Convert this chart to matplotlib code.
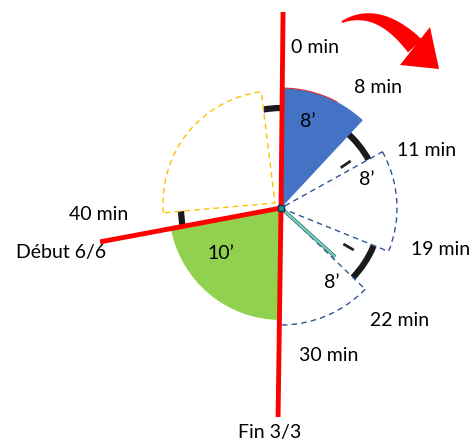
import matplotlib
matplotlib.use("Agg")
import matplotlib.pyplot as plt
import numpy as np
from matplotlib.patches import Wedge, Circle, Arc, Polygon

plt.rcParams['font.family'] = ['Lato', 'DejaVu Sans']

# angles en degrés, sens horaire depuis midi
blocs_debut = [0.6, 61, 134, 180.8, 265]
blocs_fin = [43, 112, 180.8, 259.4, 353]
blocs_texte = ["8\u2019", "8\u2019", "8\u2019", "10\u2019", ""]
blocs_angle_texte = [17, 71.6, 145.8, 233.1, 0]

minutes_texte = ["0 min", "8 min", "11 min", "19 min", "22 min", "30 min", "40 min"]
minutes_angle = [12.0, 38.7, 68.5, 104.7, 133.5, 161.9, 268.1]
minutes_rayon = [164, 155, 156, 165, 163, 155, 182]

rayons_rouges = [0.6, 180.8, 259.4]
rayons_longueur = [196, 209, 184]

cx, cy = 281, 208


def pt(a, r, c=(cx, cy)):
    th = np.radians(a - 90)
    return c[0] + r * np.cos(th), c[1] + r * np.sin(th)


fig = plt.figure(figsize=(4.73, 4.41), dpi=100)
ax = fig.add_axes([0, 0, 1, 1])
ax.set_xlim(0, 473)
ax.set_ylim(441, 0)
ax.set_aspect('equal')
ax.axis('off')

# horloge en fond
ax.add_patch(Circle((cx, cy), 100, fill=False, ec='#1a1a1a', lw=4.5, zorder=1))
for a in [56, 120]:
    x0, y0 = pt(a, 72)
    x1, y1 = pt(a, 84)
    ax.plot([x0, x1], [y0, y1], color='#222222', lw=2, solid_capstyle='butt', zorder=1)

# blocs
styles = [
    dict(fc='#4472C4', ec='none', r=120, c=(cx, cy)),
    dict(fc='white', ec='#2F5597', r=116, c=(cx, cy), ls=(0, (4, 3))),
    dict(fc='white', ec='#2F5597', r=117, c=(cx, cy), ls=(0, (4, 3))),
    dict(fc='#92D050', ec='none', r=112, c=(cx, cy)),
    dict(fc='white', ec='#FFC000', r=112, c=(275, 203), ls=(0, (4, 3))),
]
for d, f, txt, at, s in zip(blocs_debut, blocs_fin, blocs_texte, blocs_angle_texte, styles):
    w = Wedge(s['c'], s['r'], d - 90, f - 90, fc=s['fc'], ec=s['ec'],
              lw=1.0, ls=s.get('ls', '-'), zorder=2)
    ax.add_patch(w)
    if txt:
        r_txt = {"8\u2019": 90}.get(txt, 75)
        x, y = pt(at, r_txt)
        ax.text(x, y, txt, ha='center', va='center', fontsize=14, color='black', zorder=5)

# fin liseré rouge sur le bloc bleu
ax.add_patch(Arc((cx, cy), 240, 240, theta1=-90, theta2=-62, color='#E03030', lw=0.8, zorder=3))

# aiguille
x1, y1 = pt(132, 73)
ax.plot([cx, x1], [cy, y1], color='#2E7F74', lw=2.6, zorder=3, solid_capstyle='butt')
ax.plot([cx, x1], [cy, y1], color='#7FD1C0', lw=1.4, zorder=3, solid_capstyle='butt')

# axes rouges
for a, l in zip(rayons_rouges, rayons_longueur):
    x1, y1 = pt(a, l)
    ax.plot([cx, x1], [cy, y1], color='#FF0000', lw=3.5, solid_capstyle='butt', zorder=4)
ax.plot([cx], [cy], marker='s', ms=4, color='#1F8F8A', mec='#203050', zorder=5)

# étiquettes minutes
for t, a, r in zip(minutes_texte, minutes_angle, minutes_rayon):
    x, y = pt(a, r)
    ax.text(x, y, t, ha='center', va='center', fontsize=14, color='black', zorder=5)

x, y = pt(259.4, 224)
ax.text(x, y + 3, "Début 6/6", ha='center', va='center', fontsize=14, zorder=5)
x, y = pt(180.8, 225)
ax.text(x - 8, y, "Fin 3/3", ha='center', va='center', fontsize=14, zorder=5)

# flèche rouge courbe (sens horaire)
p0 = np.array([342, 22.0])
p1 = np.array([378, 5.0])
p2 = np.array([415, 46.0])
t = np.linspace(0, 1, 40)[:, None]
c = (1 - t) ** 2 * p0 + 2 * (1 - t) * t * p1 + t ** 2 * p2
dc = 2 * (1 - t) * (p1 - p0) + 2 * t * (p2 - p1)
n = np.column_stack([dc[:, 1], -dc[:, 0]])
n /= np.linalg.norm(n, axis=1)[:, None]
hw = (1 + 8.5 * t)
haut = c + n * hw
bas = c - n * hw
corps = np.vstack([haut, bas[::-1]])
ax.add_patch(Polygon(corps, closed=True, fc='#FF0000', ec='none', zorder=4))
ax.add_patch(Polygon([[400, 65], [430, 27], [439, 69]], closed=True, fc='#FF0000', ec='none', zorder=4))

fig.savefig('out.png', dpi=100)
